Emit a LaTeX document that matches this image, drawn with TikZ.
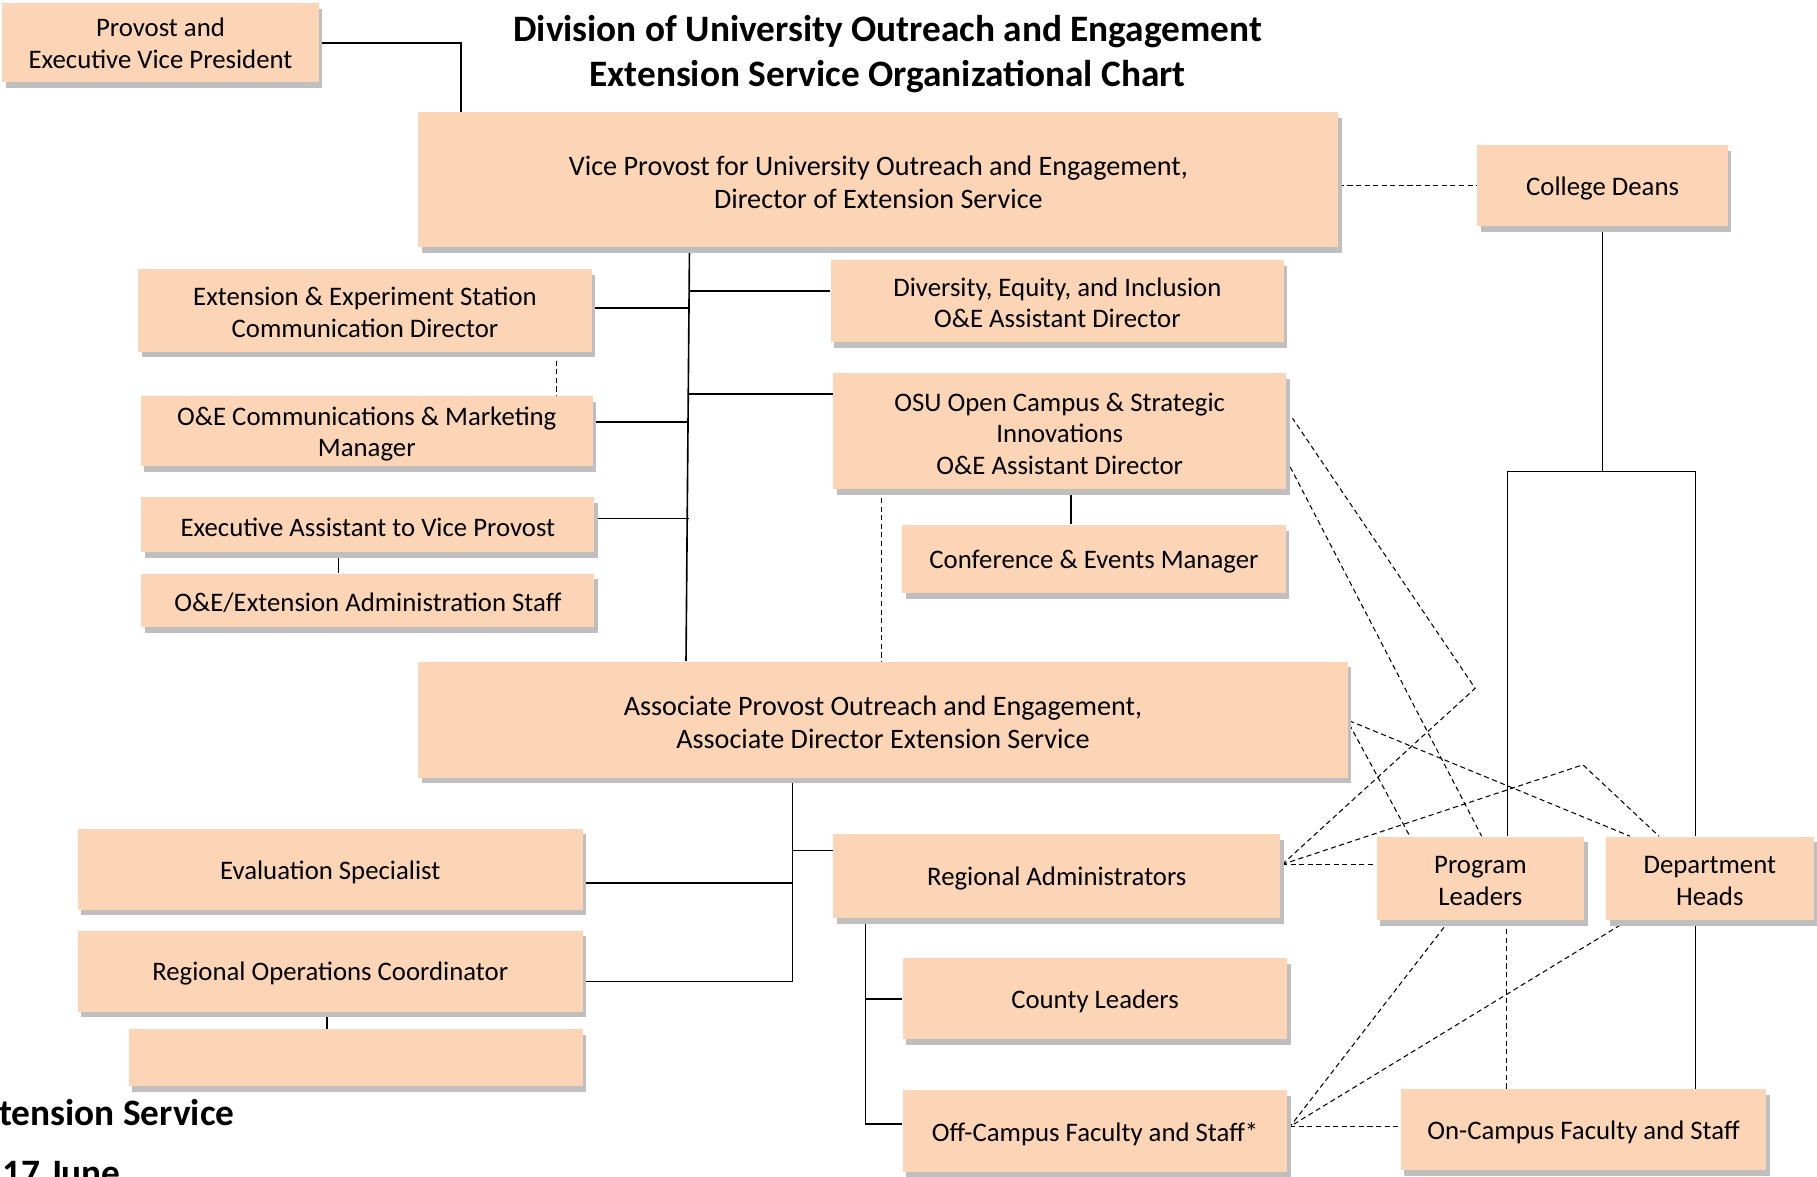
\documentclass[tikz,border=0pt]{standalone}
\usepackage{fontspec}
\setmainfont{Carlito}
\usetikzlibrary{shadows,calc}
\definecolor{boxfill}{RGB}{251,213,181}
\pgfdeclarelayer{bg}
\pgfsetlayers{bg,main}
\begin{document}
\begin{tikzpicture}[x=0.5pt,y=-0.5pt,
  box/.style={fill=boxfill, inner sep=0pt,
    drop shadow={shadow xshift=1.5pt,shadow yshift=-2.5pt,fill=black!25,opacity=1}},
  btxt/.style={align=center, inner sep=0pt, yshift=-1.2pt,
    font=\fontsize{11.55}{13.6}\selectfont},
  bigtxt/.style={btxt, font=\fontsize{12.15}{14.3}\selectfont},
  titlefont/.style={font=\bfseries\fontsize{16.1}{19.5}\selectfont},
  solidln/.style={line width=0.7pt},
  dashln/.style={line width=0.45pt, dash pattern=on 2.2pt off 1.5pt}]
\useasboundingbox (0,0) rectangle (1568,1015);

% title
\node[titlefont, align=center, inner sep=0pt] (title) at (766,47)
  {Division of University Outreach and Engagement\\Extension Service Organizational Chart};

% boxes
\node[box, minimum width=136.5pt, minimum height=34pt] (prov) at (138.5,37) {};
\node[btxt, yshift=1pt] (provT) at (prov) {Provost and\\Executive Vice President};
\node[box, minimum width=397pt, minimum height=58pt] (vp) at (758,155) {};
\node[bigtxt] (vpT) at (vp) {Vice Provost for University Outreach and Engagement,\\Director of Extension Service};
\node[box, minimum width=108pt, minimum height=35pt] (deans) at (1383,160) {};
\node[btxt] (deansT) at (deans) {College Deans};
\node[box, minimum width=195.5pt, minimum height=35.5pt] (ees) at (315,268) {};
\node[btxt, yshift=0.4pt] (eesT) at (ees) {Extension \& Experiment Station\\Communication Director};
\node[box, minimum width=195.5pt, minimum height=35.5pt] (dei) at (912.5,260) {};
\node[btxt, yshift=0.6pt] (deiT) at (dei) {Diversity, Equity, and Inclusion\\O\&E Assistant Director};
\node[box, minimum width=195pt, minimum height=30.5pt] (oec) at (316.5,372) {};
\node[btxt] (oecT) at (oec) {O\&E Communications \& Marketing\\Manager};
\node[box, minimum width=195.5pt, minimum height=50pt] (osu) at (914.5,372) {};
\node[btxt] (osuT) at (osu) {OSU Open Campus \& Strategic\\Innovations\\O\&E Assistant Director};
\node[box, minimum width=195.5pt, minimum height=23.75pt] (exa) at (317.5,452.5) {};
\node[btxt] (exaT) at (exa) {Executive Assistant to Vice Provost};
\node[box, minimum width=195.5pt, minimum height=23pt] (adm) at (317.5,518) {};
\node[btxt] (admT) at (adm) {O\&E/Extension Administration Staff};
\node[box, minimum width=165.5pt, minimum height=29.5pt] (conf) at (944,482.5) {};
\node[btxt] (confT) at (conf) {Conference \& Events Manager};
\node[box, minimum width=401pt, minimum height=50pt] (ap) at (762,621) {};
\node[bigtxt] (apT) at (ap) {Associate Provost Outreach and Engagement,\\Associate Director Extension Service};
\node[box, minimum width=218pt, minimum height=35pt] (eval) at (285,750) {};
\node[btxt] (evalT) at (eval) {Evaluation Specialist};
\node[box, minimum width=218pt, minimum height=35pt] (roc) at (285,838) {};
\node[btxt] (rocT) at (roc) {Regional Operations Coordinator};
\node[box, minimum width=196pt, minimum height=24.5pt] (empty) at (307,912.5) {};
\node[box, minimum width=193pt, minimum height=36pt] (ra) at (912,756) {};
\node[btxt] (raT) at (ra) {Regional Administrators};
\node[box, minimum width=89.5pt, minimum height=36pt] (pl) at (1277.5,758) {};
\node[btxt] (plT) at (pl) {Program\\Leaders};
\node[box, minimum width=89.5pt, minimum height=36pt] (dh) at (1475.5,758) {};
\node[btxt] (dhT) at (dh) {Department\\Heads};
\node[box, minimum width=166pt, minimum height=35pt] (cl) at (945,862) {};
\node[btxt] (clT) at (cl) {County Leaders};
\node[box, minimum width=166pt, minimum height=35pt] (off) at (945,976) {};
\node[btxt] (offT) at (off) {Off-Campus Faculty and Staff*};
\node[box, minimum width=157.5pt, minimum height=35pt] (on) at (1366.5,975) {};
\node[btxt] (onT) at (on) {On-Campus Faculty and Staff};

% footer text, cut by the picture's edges as in the original
\begin{scope}
\clip (0,0) rectangle (1568,1015);
\node[titlefont, anchor=west, inner sep=0pt] (foot1) at (-1,960) {tension Service};
\node[titlefont, anchor=base west, inner sep=0pt] (foot2) at (2,1023) {17 June};
\end{scope}

% helper coordinates
\coordinate (xA) at (398,0);
\coordinate (xB) at (595,0);
\coordinate (xB2) at (592,0);
\coordinate (xC) at (480,0);
\coordinate (xD) at (292,0);
\coordinate (xE) at (684,0);
\coordinate (xF) at (747,0);
\coordinate (xG) at (1300,0);
\coordinate (xH) at (924,0);
\coordinate (xI) at (761,0);
\coordinate (xJ) at (282,0);
\coordinate (brL) at (1301,407);
\coordinate (brR) at (1463,407);
\coordinate (kinkA) at (1273,594);
\coordinate (kinkB) at (1366,660);

\begin{pgfonlayer}{bg}
% solid
\draw[solidln] (prov.east) -| (vp.north -| xA);
\draw[solidln] (vp.south -| xB) -- (ap.north -| xB2);
\draw[solidln] ($(ees.east)+(0,-2)$) -- ($(ees.east -| xB)+(0,-2)$);
\draw[solidln] ($(dei.west)+(0,-9)$) -- ($(dei.west -| xB)+(0,-9)$);
\draw[solidln] ($(oec.east)+(0,-8)$) -- ($(oec.east -| xB)+(0,-8)$);
\draw[solidln] ($(osu.west)+(0,-32)$) -- ($(osu.west -| xB)+(0,-32)$);
\draw[solidln] ($(exa.east)+(0,-5)$) -- ($(exa.east -| xB)+(0,-5)$);
\draw[solidln] (exa.south -| xD) -- (adm.north -| xD);
\draw[solidln] (osu.south -| xH) -- (conf.north -| xH);
\draw[solidln] (deans.south) -- (deans.south |- brL);
\draw[solidln] (pl.north -| brL) -- (brL) -- (brR) -- (dh.north -| brR);
\draw[solidln] (dh.south -| brR) -- (on.north -| brR);
\draw[solidln] (ap.south -| xE) |- ($(roc.east)+(0,9)$);
\draw[solidln] ($(eval.east)+(0,12)$) -- ($(eval.east -| xE)+(0,12)$);
\draw[solidln] ($(ra.west -| xE)+(0,-22)$) -- ($(ra.west)+(0,-22)$);
\draw[solidln] (roc.south -| xJ) -- (empty.north -| xJ);
\draw[solidln] (ra.south -| xF) |- ($(off.west)+(0,-6)$);
\draw[solidln] (cl.west) -- (cl.west -| xF);
% dashed
\draw[dashln] (vp.east |- deans.west) -- (deans.west);
\draw[dashln] (ees.south -| xC) -- (oec.north -| xC);
\draw[dashln] (osu.south -| xI) -- (ap.north -| xI);
\coordinate (raP) at ($(ra.east)+(1,-10)$);
\coordinate (offP) at ($(off.east)+(2,-4)$);
\draw[dashln] (raP) -- (kinkA) -- ($(osu.east)+(5,-11)$);
\draw[dashln] ($(osu.east)+(3,31)$) -- ($(pl.north west)+(91,0)$);
\draw[dashln] ($(ap.east)+(1,1)$) -- ($(dh.north west)+(21,0)$);
\draw[dashln] ($(ap.east)+(1,4)$) -- ($(pl.north west)+(29,0)$);
\draw[dashln] (raP) -- (kinkB) -- ($(dh.north west)+(46,0)$);
\draw[dashln] (raP) -- (pl.west |- raP);
\draw[dashln] ($(pl.south west)+(63,0)$) -- (offP);
\draw[dashln] (pl.south -| xG) -- (on.north -| xG);
\draw[dashln] ($(dh.south west)+(19,0)$) -- (offP);
\draw[dashln] (offP) -- (on.west |- offP);
\end{pgfonlayer}
\end{tikzpicture}
\end{document}
